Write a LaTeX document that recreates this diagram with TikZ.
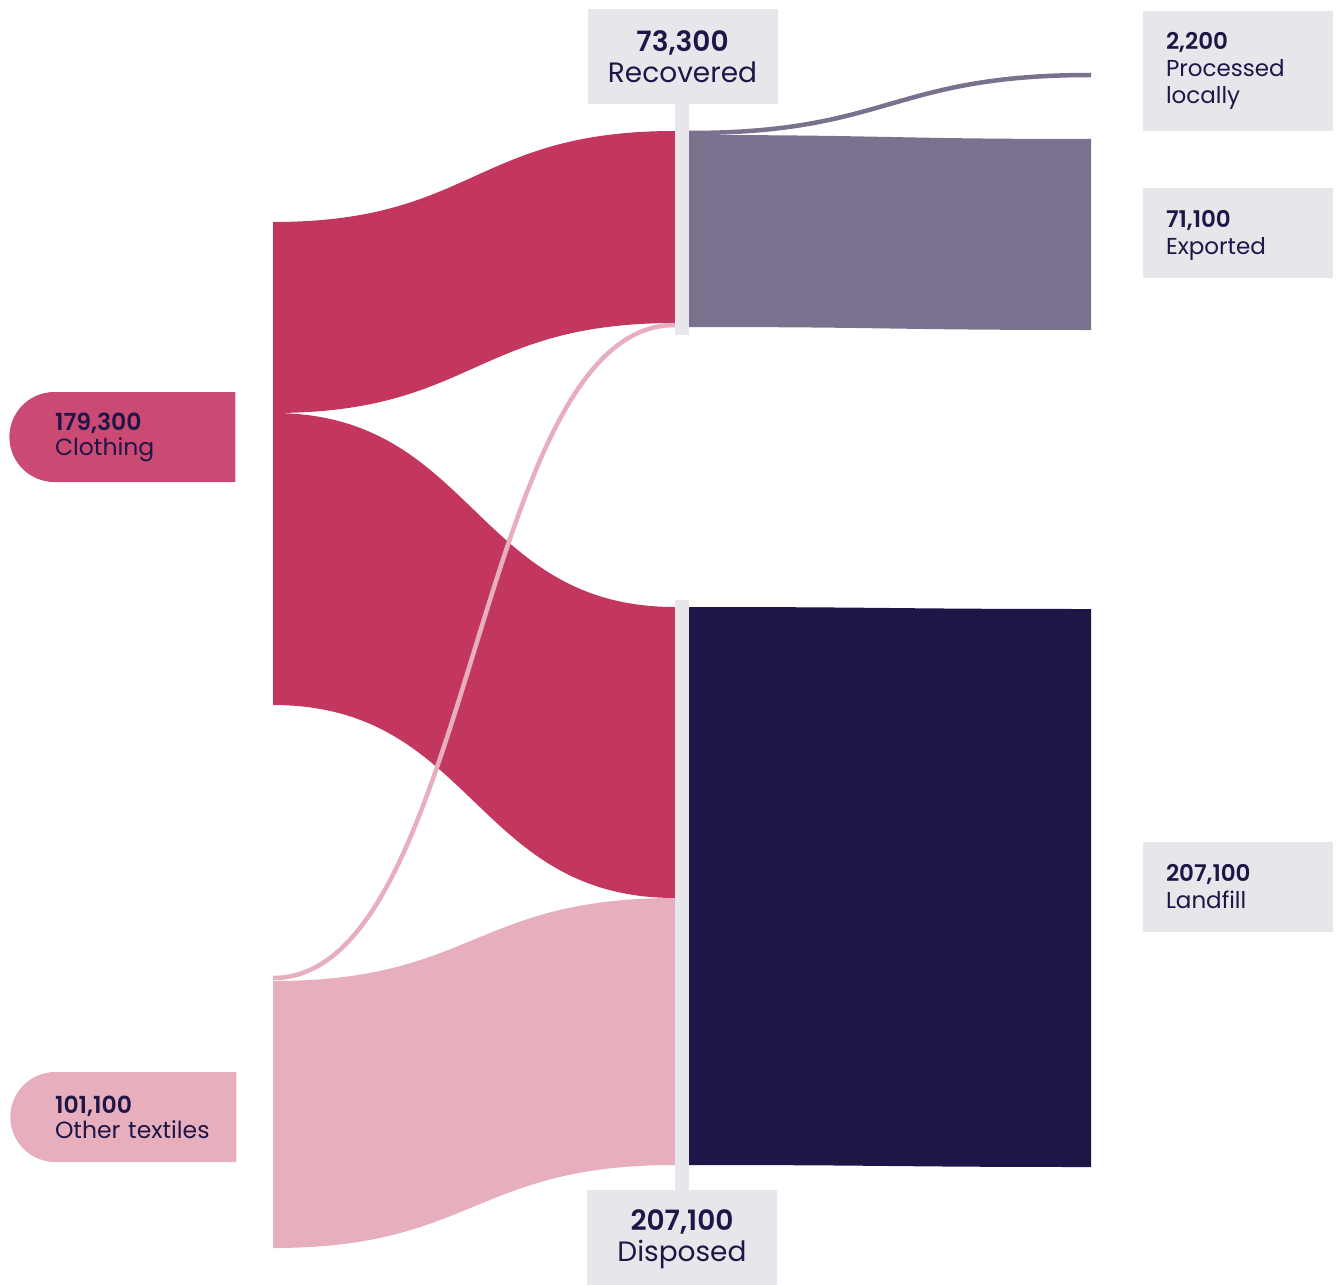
\documentclass[tikz,border=0pt]{standalone}
\usepackage{fontspec}
\setmainfont{Poppins}[BoldFont={Poppins SemiBold}]
\usetikzlibrary{shapes.misc}
\definecolor{navy}{HTML}{1E1646}
\definecolor{clothnode}{HTML}{CB4A73}
\definecolor{clothflow}{HTML}{C3375F}
\definecolor{otherpink}{HTML}{E7AEBE}
\definecolor{boxgray}{HTML}{E7E6EB}
\definecolor{exportgray}{HTML}{7A718E}
\newcommand{\flowband}[7]{%
  \fill[#7] (#1,#2) .. controls ({(#1+#4)/2},#2) and ({(#1+#4)/2},#5) .. (#4,#5)
    -- (#4,#6) .. controls ({(#1+#4)/2},#6) and ({(#1+#4)/2},#3) .. (#1,#3) -- cycle;}
\newcommand{\flowline}[5]{%
  \draw[#5, line width=4.5pt] (#1,#2) .. controls ({(#1+#3)/2},#2) and ({(#1+#3)/2},#4) .. (#3,#4);}
\tikzstyle{source}=[rounded rectangle, rounded rectangle right arc=none, minimum width=226pt,
                    minimum height=90pt, inner sep=0, text width=142pt, align=left, text=navy,
                    font=\fontsize{23.5}{25}\selectfont]
\tikzstyle{stagebox}=[fill=boxgray, minimum width=190pt, inner sep=0, align=center, text=navy,
                      font=\fontsize{28}{31}\selectfont]
\tikzstyle{sinkbox}=[fill=boxgray, minimum width=190pt, inner sep=0, text width=144pt, align=left,
                     text=navy, font=\fontsize{23}{27}\selectfont]
\tikzstyle{stagebar}=[fill=boxgray, minimum width=14pt, inner sep=0]

\begin{document}
\begin{tikzpicture}[x=1pt, y=-1pt]
    \useasboundingbox (0,0) rectangle (1340,1284);
    % flows into the two stages
    \flowband{273}{222}{413}{675}{131}{323}{clothflow}
    \flowband{273}{413}{705}{675}{607}{898}{clothflow}
    \flowband{273}{981}{1248}{675}{898}{1165}{otherpink}
    \flowline{273}{978}{675}{325}{otherpink}
    % flows out of the two stages
    \flowline{689}{133}{1091}{75}{exportgray}
    \flowband{689}{135}{327}{1091}{139}{330}{exportgray}
    \flowband{689}{607}{1165}{1091}{609}{1167}{navy}
    % stage bars
    \node[stagebar, minimum height=231pt] (recbar) at (682, 219.5) {};
    \node[stagebar, minimum height=590pt] (disbar) at (682, 895) {};
    % sources
    \node[source, fill=clothnode] (clothing) at (126, 437) {\textbf{179,300}\\Clothing};
    \node[source, fill=otherpink] (other) at (126, 1117) {\textbf{101,100}\\\mbox{Other textiles}};
    % stages
    \node[stagebox, minimum height=95pt] (recovered) at (682.5, 56.5) {\textbf{73,300}\\Recovered};
    \node[stagebox, minimum height=99pt] (disposed) at (682, 1239.5) {\textbf{207,100}\\Disposed};
    % destinations
    \node[sinkbox, minimum height=120pt] (local) at (1238, 71) {\textbf{2,200}\\Processed\\locally};
    \node[sinkbox, minimum height=90pt] (exported) at (1238, 233) {\rule{0pt}{22pt}\textbf{71,100}\\Exported};
    \node[sinkbox, minimum height=90pt] (landfill) at (1238, 887) {\textbf{207,100}\\Landfill};
\end{tikzpicture}
\end{document}
